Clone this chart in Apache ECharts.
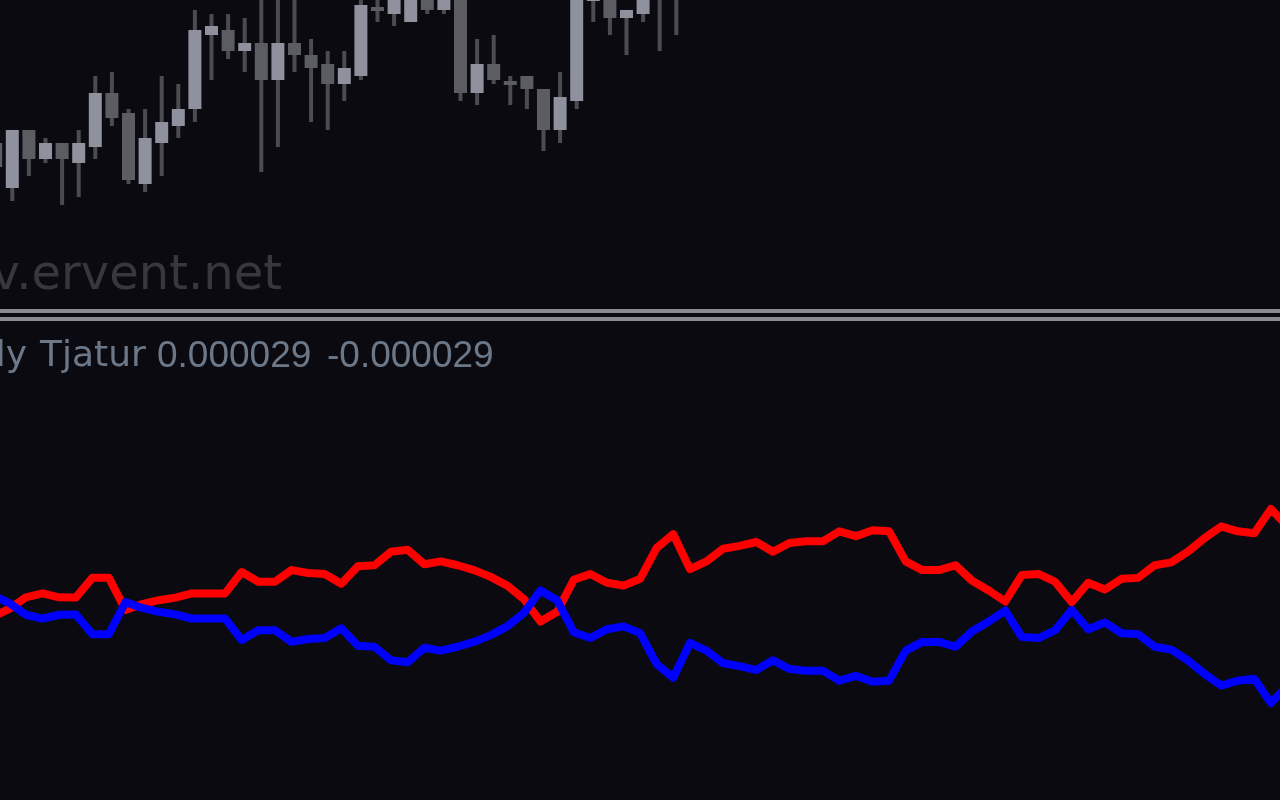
<!DOCTYPE html>
<html><head><meta charset="utf-8">
<script src="https://cdn.jsdelivr.net/npm/echarts@6/dist/echarts.min.js"></script>
<style>html,body{margin:0;padding:0;background:#0a0a10;overflow:hidden}#c{width:1280px;height:800px}</style>
</head><body><div id="c"></div>
<script>
// bar indices (k = -1 .. 77)
const bars = [];
for (let k = -1; k <= 77; k++) bars.push(k);

// candles visible in the price window (bars -1 .. 40)
const opens  = [1.30157,1.30112,1.30170,1.30141,1.30157,1.30137,1.30153,1.30207,1.30187,1.30116,1.30157,1.30174,1.30191,1.30265,1.30270,1.30249,1.30257,1.30220,1.30257,1.30245,1.30236,1.30216,1.30224,1.30293,1.30286,1.30278,1.30320,1.30290,1.30320,1.30207,1.30236,1.30219,1.30224,1.30211,1.30170,1.30199,1.30299,1.30315,1.30282,1.30286,1.30330,1.30320];
const closes = [1.30133,1.30170,1.30141,1.30157,1.30141,1.30157,1.30207,1.30182,1.30120,1.30162,1.30178,1.30191,1.30270,1.30274,1.30249,1.30257,1.30220,1.30257,1.30245,1.30232,1.30216,1.30232,1.30295,1.30293,1.30310,1.30330,1.30290,1.30315,1.30207,1.30236,1.30220,1.30219,1.30211,1.30170,1.30203,1.30305,1.30320,1.30282,1.30290,1.30310,1.30310,1.30305];
const lows   = [1.30125,1.30099,1.30124,1.30137,1.30095,1.30103,1.30141,1.30174,1.30116,1.30108,1.30124,1.30162,1.30178,1.30220,1.30241,1.30228,1.30128,1.30153,1.30228,1.30178,1.30170,1.30199,1.30220,1.30278,1.30274,1.30278,1.30286,1.30286,1.30199,1.30195,1.30216,1.30195,1.30191,1.30149,1.30157,1.30191,1.30278,1.30265,1.30245,1.30278,1.30249,1.30265];
const highs  = [1.30165,1.30170,1.30170,1.30162,1.30157,1.30170,1.30224,1.30228,1.30191,1.30191,1.30224,1.30216,1.30290,1.30286,1.30286,1.30282,1.30310,1.30310,1.30305,1.30261,1.30249,1.30249,1.30302,1.30308,1.30320,1.30340,1.30330,1.30325,1.30330,1.30261,1.30265,1.30224,1.30224,1.30211,1.30228,1.30315,1.30330,1.30325,1.30290,1.30315,1.30340,1.30330];

// indicator lines (bars -1 .. 77)
const redLine = [-3.3e-6,-0.9e-6,2.7e-6,3.9e-6,2.7e-6,2.6e-6,8.7e-6,8.7e-6,-1.2e-6,0.6e-6,1.8e-6,2.6e-6,3.9e-6,3.9e-6,3.9e-6,10.5e-6,7.5e-6,7.5e-6,11.1e-6,10.2e-6,9.9e-6,6.9e-6,12.3e-6,12.6e-6,16.8e-6,17.4e-6,12.9e-6,13.8e-6,12.6e-6,11.1e-6,9.0e-6,6.3e-6,2.1e-6,-4.8e-6,-1.8e-6,8.1e-6,9.9e-6,7.2e-6,6.3e-6,8.4e-6,18.0e-6,22.2e-6,11.4e-6,13.8e-6,17.7e-6,18.6e-6,19.8e-6,16.8e-6,19.5e-6,20.0e-6,20.0e-6,23.1e-6,21.6e-6,23.4e-6,23.1e-6,13.8e-6,11.1e-6,11.1e-6,12.6e-6,7.8e-6,4.8e-6,1.4e-6,9.6e-6,9.9e-6,7.5e-6,1.2e-6,7.2e-6,5.1e-6,8.4e-6,8.7e-6,12.6e-6,13.5e-6,16.8e-6,21.0e-6,24.6e-6,23.1e-6,22.5e-6,30.0e-6,24.6e-6];
const blueLine = [3.3e-6,0.9e-6,-2.7e-6,-3.9e-6,-2.7e-6,-2.6e-6,-8.7e-6,-8.7e-6,1.2e-6,-0.6e-6,-1.8e-6,-2.6e-6,-3.9e-6,-3.9e-6,-3.9e-6,-10.5e-6,-7.5e-6,-7.5e-6,-11.1e-6,-10.2e-6,-9.9e-6,-6.9e-6,-12.3e-6,-12.6e-6,-16.8e-6,-17.4e-6,-12.9e-6,-13.8e-6,-12.6e-6,-11.1e-6,-9.0e-6,-6.3e-6,-2.1e-6,4.8e-6,1.8e-6,-8.1e-6,-9.9e-6,-7.2e-6,-6.3e-6,-8.4e-6,-18.0e-6,-22.2e-6,-11.4e-6,-13.8e-6,-17.7e-6,-18.6e-6,-19.8e-6,-16.8e-6,-19.5e-6,-20.0e-6,-20.0e-6,-23.1e-6,-21.6e-6,-23.4e-6,-23.1e-6,-13.8e-6,-11.1e-6,-11.1e-6,-12.6e-6,-7.8e-6,-4.8e-6,-1.4e-6,-9.6e-6,-9.9e-6,-7.5e-6,-1.2e-6,-7.2e-6,-5.1e-6,-8.4e-6,-8.7e-6,-12.6e-6,-13.5e-6,-16.8e-6,-21.0e-6,-24.6e-6,-23.1e-6,-22.5e-6,-30.0e-6,-24.6e-6];

const watermark = 'v.ervent.net';
const labelName = 'ly';
const labelName2 = 'Tjatur';
const labelVal1 = '0.000029';
const labelVal2 = '-0.000029';

const candleData = opens.map((o, i) => [bars[i], o, closes[i], lows[i], highs[i]]);
const redData = redLine.map((v, i) => [bars[i], v]);
const blueData = blueLine.map((v, i) => [bars[i], v]);

const chart = echarts.init(document.getElementById('c'), null, {renderer: 'canvas'});
const labelFont = '37px "Liberation Sans"';
const nameFont = '36px "DejaVu Sans"';
const labelColor = '#6c7888';
chart.setOption({
  backgroundColor: '#0a0a10',
  animation: false,
  grid: [
    {left: 0, right: 0, top: 0, height: 300},
    {left: 0, right: 0, top: 412, height: 400}
  ],
  xAxis: [
    {type: 'value', gridIndex: 0, min: -0.741, max: 76.367, show: false, splitLine: {show: false}},
    {type: 'value', gridIndex: 1, min: -0.560, max: 76.548, show: false, splitLine: {show: false}}
  ],
  yAxis: [
    {type: 'value', gridIndex: 0, min: 1.30000, max: 1.30300, show: false, splitLine: {show: false}},
    {type: 'value', gridIndex: 1, min: -0.00006, max: 0.00006, show: false, splitLine: {show: false}}
  ],
  graphic: [
    {type: 'text', x: 282, y: 301, silent: true,
     style: {text: watermark, fill: '#37373c', font: '48px "DejaVu Sans"', align: 'right', verticalAlign: 'bottom'}},
    {type: 'rect', shape: {x: 0, y: 309, width: 1280, height: 4}, style: {fill: '#8a8a93'}, silent: true},
    {type: 'rect', shape: {x: 0, y: 317, width: 1280, height: 4}, style: {fill: '#8a8a93'}, silent: true},
    {type: 'text', x: 27, y: 357, silent: true, style: {text: labelName, fill: labelColor, font: nameFont, align: 'right', verticalAlign: 'middle'}},
    {type: 'text', x: 40, y: 357, silent: true, style: {text: labelName2, fill: labelColor, font: nameFont, align: 'left', verticalAlign: 'middle'}},
    {type: 'text', x: 157, y: 357, silent: true, style: {text: labelVal1, fill: labelColor, font: labelFont, align: 'left', verticalAlign: 'middle'}},
    {type: 'text', x: 327, y: 357, silent: true, style: {text: labelVal2, fill: labelColor, font: labelFont, align: 'left', verticalAlign: 'middle'}}
  ],
  series: [
    {
      type: 'custom', xAxisIndex: 0, yAxisIndex: 0, data: candleData, clip: false,
      encode: {x: 0, y: [1, 2, 3, 4]},
      renderItem: function (params, api) {
        const i = api.value(0);
        const o = api.value(1), c = api.value(2), l = api.value(3), h = api.value(4);
        const po = api.coord([i, o]), pc = api.coord([i, c]);
        const pl = api.coord([i, l]), ph = api.coord([i, h]);
        const band = api.size([1, 0])[0];
        const bw = Math.round(band * 0.78);
        const cx = po[0];
        const top = Math.min(po[1], pc[1]);
        let hgt = Math.abs(po[1] - pc[1]);
        if (hgt < 4) hgt = 4;
        const up = c > o;
        return {
          type: 'group',
          children: [
            {type: 'rect', shape: {x: cx - 2, y: ph[1], width: 4, height: pl[1] - ph[1]}, style: {fill: '#4b4c51'}},
            {type: 'rect', shape: {x: cx - bw / 2, y: top, width: bw, height: hgt}, style: {fill: up ? '#8f919e' : '#5c5d62'}}
          ]
        };
      }
    },
    {type: 'line', xAxisIndex: 1, yAxisIndex: 1, data: redData, showSymbol: false, symbol: 'none', clip: false,
     lineStyle: {color: '#ff0000', width: 8, join: 'round'}, z: 3},
    {type: 'line', xAxisIndex: 1, yAxisIndex: 1, data: blueData, showSymbol: false, symbol: 'none', clip: false,
     lineStyle: {color: '#0000ff', width: 8, join: 'round'}, z: 4}
  ]
});
</script>
</body></html>
